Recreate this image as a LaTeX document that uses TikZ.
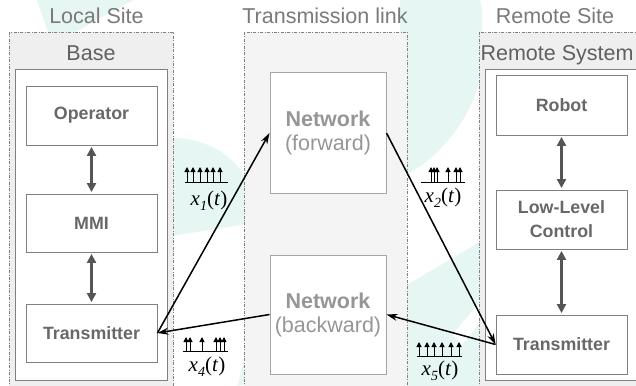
\documentclass[tikz,border=0pt]{standalone}
\usepackage{fontspec}
\setmainfont{Liberation Sans}
\newfontfamily\tms{Liberation Serif}
\usetikzlibrary{arrows.meta}
\definecolor{wm}{RGB}{229,246,243}
\definecolor{pg}{RGB}{239,239,239}
\definecolor{tg}{RGB}{244,244,244}
\definecolor{pborder}{RGB}{128,128,128}
\definecolor{hdtext}{RGB}{122,122,122}
\definecolor{subtext}{RGB}{96,96,96}
\definecolor{boxtext}{RGB}{104,104,104}
\definecolor{boxborder}{RGB}{128,128,128}
\definecolor{nettext}{RGB}{150,150,150}
\definecolor{netborder}{RGB}{166,166,166}
\definecolor{darr}{RGB}{85,85,85}
\tikzset{
  panel/.style={draw=pborder, line width=0.6pt, dash pattern=on 3pt off 1.5pt on 0.8pt off 1.5pt},
  innerbox/.style={draw=boxborder, line width=0.9pt, fill=white},
  head/.style={text=hdtext, font=\fontsize{21.5}{24}\selectfont, inner sep=0pt},
  subhead/.style={text=subtext, font=\fontsize{21.5}{24}\selectfont, inner sep=0pt},
  unitbox/.style={draw=boxborder, line width=0.9pt, fill=white, minimum width=131pt, minimum height=59pt, inner sep=0pt, text=boxtext, font=\bfseries\fontsize{17.8}{24}\selectfont, align=center},
  netbox/.style={draw=netborder, line width=1pt, fill=white, minimum width=116pt, minimum height=120pt, inner sep=0pt, text=nettext, font=\fontsize{21.5}{24}\selectfont, align=center},
  link/.style={{Triangle[length=9pt,width=9pt]}-{Triangle[length=9pt,width=9pt]}, draw=darr, line width=2.4pt, shorten <=1.5pt, shorten >=1.5pt},
  conn/.style={-{Stealth[length=11pt,width=7pt]}, line width=1.5pt, black},
  sigbase/.style={line width=1pt, black},
  sigarr/.style={-{Triangle[length=5pt,width=5pt]}, line width=1pt, black},
  siglabel/.style={inner sep=0pt, font=\tms\fontsize{21}{24}\selectfont}
}
\newcommand\sub[1]{\raisebox{-0.22em}{\fontsize{14}{16}\selectfont\textit{#1}}}
\begin{document}
\begin{tikzpicture}[x=1pt,y=-1pt]
\useasboundingbox (0,0) rectangle (636,385);
\fill[white] (0,0) rectangle (636,385);
% watermark
\fill[wm] (37,0) -- (133,0) -- (75,32) -- (48,32) -- cycle;
\begin{scope}
  \clip (400,0) rectangle (482,200);
  \fill[wm, even odd rule] (330,40) circle[radius=155] (330,40) circle[radius=70];
\end{scope}
\fill[wm] (165,138) -- (172,138) .. controls (205,138) and (235,155) .. (246,180) -- (246,224) -- (165,237) -- cycle;
\fill[wm] (400,289) -- (485,239) -- (485,390) -- (400,390) -- cycle;
\fill[white] (452,335) -- (485,296) -- (485,316) -- (462,345) -- cycle;
\fill[wm] (238,385) -- (246,352) -- (246,385) -- cycle;
% panels
\draw[panel, fill=pg] (9,32) rectangle (173,392);
\draw[panel, fill=tg] (244,32) rectangle (407,392);
\draw[panel, fill=pg] (479,32) rectangle (645,392);
\draw[innerbox] (15,69) rectangle (167,380);
\draw[innerbox] (485,69) rectangle (645,380);
% headers
\node[head] (hls) at (96.5,16) {Local Site};
\node[head] (htl) at (325,16) {Transmission link};
\node[head] (hrs) at (555,16) {Remote Site};
\node[subhead] (hb) at (91,53) {Base};
\node[subhead] (hrsys) at (557,55) {Remote System};
% local boxes
\node[unitbox] (op) at (91.5,115.5) {Operator};
\node[unitbox, minimum height=58pt] (mmi) at (91.5,223) {MMI};
\node[unitbox, minimum height=58pt] (tl) at (91.5,333) {Transmitter};
% network boxes
\node[netbox] (nf) at (328,133) {\textbf{Network}\\(forward)};
\node[netbox, minimum height=119pt] (nb) at (328,314.5) {\textbf{Network}\\(backward)};
% remote boxes
\node[unitbox, minimum height=60pt] (rob) at (561.5,105) {Robot};
\node[unitbox] (llc) at (561.5,219.5) {Low-Level\\Control};
\node[unitbox] (tr) at (561.5,344.5) {Transmitter};
% vertical links
\draw[link] (op.south) -- (mmi.north);
\draw[link] (mmi.south) -- (tl.north);
\draw[link] (rob.south) -- (llc.north);
\draw[link] (llc.south) -- (tr.north);
% connectors
\draw[conn] (tl.east) -- (nf.west);
\draw[conn] (nf.east) -- (tr.west);
\draw[conn] (tr.west) -- (nb.east);
\draw[conn] (nb.west) -- (tl.east);
% signal x1
\draw[sigbase] (185,182) -- (228,182);
\foreach \x in {187,193,200,207,213,220} \draw[sigarr] (\x,182) -- (\x,167);
\node[siglabel] (l1) at (209,201) {\textit{x}\sub{1}(\textit{t})};
% signal x2
\draw[sigbase] (421,182) -- (465,182);
\foreach \x in {431,434,437,448,456,460} \draw[sigarr] (\x,182) -- (\x,167);
\node[siglabel] (l2) at (443,198) {\textit{x}\sub{2}(\textit{t})};
% signal x4
\draw[sigbase] (183,351) -- (228,351);
\foreach \x in {186,190,202,216,220,224} \draw[sigarr] (\x,351) -- (\x,337);
\node[siglabel] (l4) at (207,367) {\textit{x}\sub{4}(\textit{t})};
% signal x5
\draw[sigbase] (417,356) -- (462,356);
\foreach \x in {419,427,434,442,451,459} \draw[sigarr] (\x,356) -- (\x,342);
\node[siglabel] (l5) at (440,371) {\textit{x}\sub{5}(\textit{t})};
\end{tikzpicture}
\end{document}
